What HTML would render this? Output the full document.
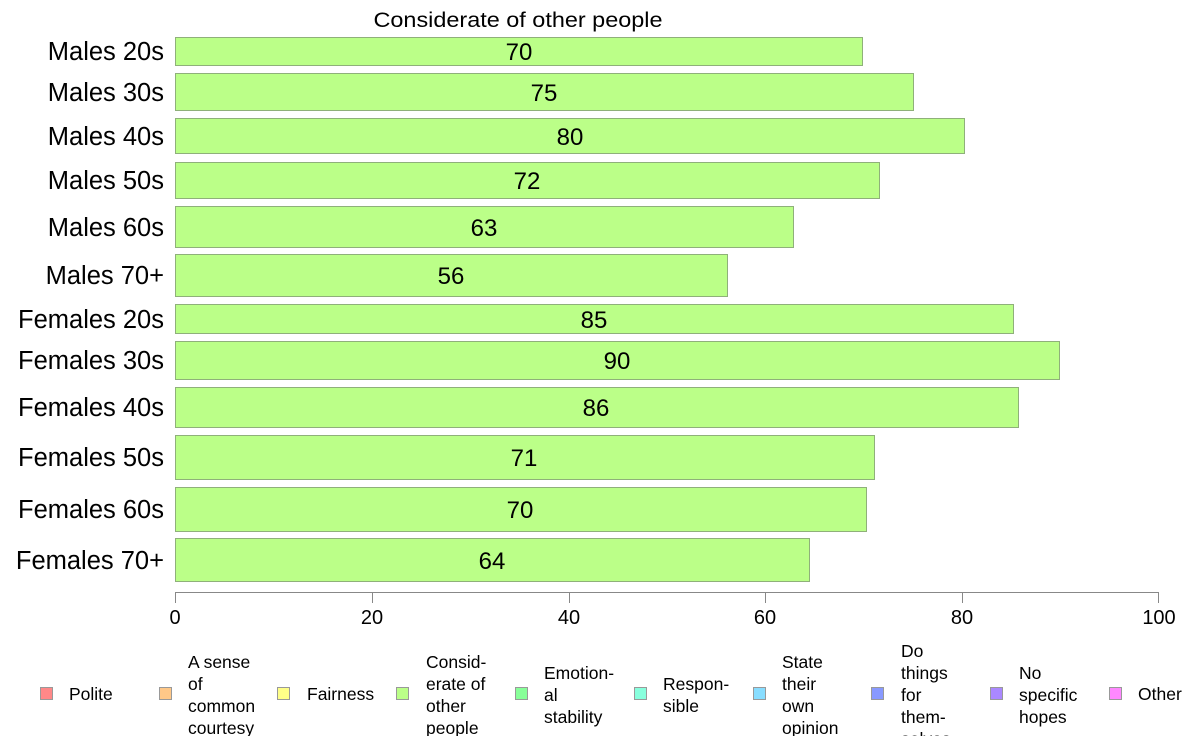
<!DOCTYPE html>
<html><head><meta charset="utf-8"><style>html,body{margin:0;padding:0;background:#fff}svg{display:block}text{font-family:"Liberation Sans",Arial,sans-serif}</style></head>
<body>
<svg width="1188" height="736" viewBox="0 0 1188 736" xmlns="http://www.w3.org/2000/svg">
<text x="518" y="27" font-size="21" text-anchor="middle" textLength="289" lengthAdjust="spacingAndGlyphs">Considerate of other people</text>
<g fill="#bbff88" stroke="#8fb07a" stroke-width="1">
<rect x="175.5" y="37.5" width="687" height="28"/>
<rect x="175.5" y="73.5" width="738" height="37"/>
<rect x="175.5" y="118.5" width="789" height="35"/>
<rect x="175.5" y="162.5" width="704" height="36"/>
<rect x="175.5" y="206.5" width="618" height="41"/>
<rect x="175.5" y="254.5" width="552" height="42"/>
<rect x="175.5" y="304.5" width="838" height="29"/>
<rect x="175.5" y="341.5" width="884" height="38"/>
<rect x="175.5" y="387.5" width="843" height="40"/>
<rect x="175.5" y="435.5" width="699" height="44"/>
<rect x="175.5" y="487.5" width="691" height="44"/>
<rect x="175.5" y="538.5" width="634" height="43"/>
</g>
<g font-size="25.5" text-anchor="end">
<text x="164" y="60">Males 20s</text>
<text x="164" y="101">Males 30s</text>
<text x="164" y="145">Males 40s</text>
<text x="164" y="189">Males 50s</text>
<text x="164" y="236">Males 60s</text>
<text x="164" y="284">Males 70+</text>
<text x="164" y="328">Females 20s</text>
<text x="164" y="369">Females 30s</text>
<text x="164" y="416">Females 40s</text>
<text x="164" y="466">Females 50s</text>
<text x="164" y="518">Females 60s</text>
<text x="164" y="569">Females 70+</text>
</g>
<g font-size="24" text-anchor="middle">
<text x="519" y="60">70</text>
<text x="544" y="101">75</text>
<text x="570" y="145">80</text>
<text x="527" y="189">72</text>
<text x="484" y="236">63</text>
<text x="451" y="284">56</text>
<text x="594" y="328">85</text>
<text x="617" y="369">90</text>
<text x="596" y="416">86</text>
<text x="524" y="466">71</text>
<text x="520" y="518">70</text>
<text x="492" y="569">64</text>
</g>
<g stroke="#888" stroke-width="1">
<line x1="175" y1="592.5" x2="1159" y2="592.5"/>
<line x1="175.5" y1="592" x2="175.5" y2="603"/>
<line x1="372.5" y1="592" x2="372.5" y2="603"/>
<line x1="569.5" y1="592" x2="569.5" y2="603"/>
<line x1="765.5" y1="592" x2="765.5" y2="603"/>
<line x1="962.5" y1="592" x2="962.5" y2="603"/>
<line x1="1158.5" y1="592" x2="1158.5" y2="603"/>
</g>
<g font-size="20" text-anchor="middle">
<text x="175" y="624">0</text><text x="372" y="624">20</text><text x="569" y="624">40</text>
<text x="765" y="624">60</text><text x="962" y="624">80</text><text x="1159" y="624">100</text>
</g>
<g stroke="#999" stroke-width="1">
<rect x="40.5" y="687.5" width="12" height="12" fill="#ff8888"/>
<rect x="159.5" y="687.5" width="12" height="12" fill="#ffc888"/>
<rect x="277.5" y="687.5" width="12" height="12" fill="#ffff88"/>
<rect x="396.5" y="687.5" width="12" height="12" fill="#bbff88"/>
<rect x="515.5" y="687.5" width="12" height="12" fill="#88ff99"/>
<rect x="634.5" y="687.5" width="12" height="12" fill="#88ffdd"/>
<rect x="753.5" y="687.5" width="12" height="12" fill="#88ddff"/>
<rect x="871.5" y="687.5" width="12" height="12" fill="#8899ff"/>
<rect x="990.5" y="687.5" width="12" height="12" fill="#aa88ff"/>
<rect x="1109.5" y="687.5" width="12" height="12" fill="#ff88ff"/>
</g>
<g font-size="17.5">
<text x="69" y="700">Polite</text>
<text x="188" y="668">A sense</text><text x="188" y="690">of</text><text x="188" y="712">common</text><text x="188" y="734">courtesy</text>
<text x="307" y="700">Fairness</text>
<text x="426" y="668">Consid-</text><text x="426" y="690">erate of</text><text x="426" y="712">other</text><text x="426" y="734">people</text>
<text x="544" y="679">Emotion-</text><text x="544" y="701">al</text><text x="544" y="723">stability</text>
<text x="663" y="690">Respon-</text><text x="663" y="712">sible</text>
<text x="782" y="668">State</text><text x="782" y="690">their</text><text x="782" y="712">own</text><text x="782" y="734">opinion</text>
<text x="901" y="657">Do</text><text x="901" y="679">things</text><text x="901" y="701">for</text><text x="901" y="723">them-</text><text x="901" y="745">selves</text>
<text x="1019" y="679">No</text><text x="1019" y="701">specific</text><text x="1019" y="723">hopes</text>
<text x="1138" y="700">Other</text>
</g>
</svg>
</body></html>
